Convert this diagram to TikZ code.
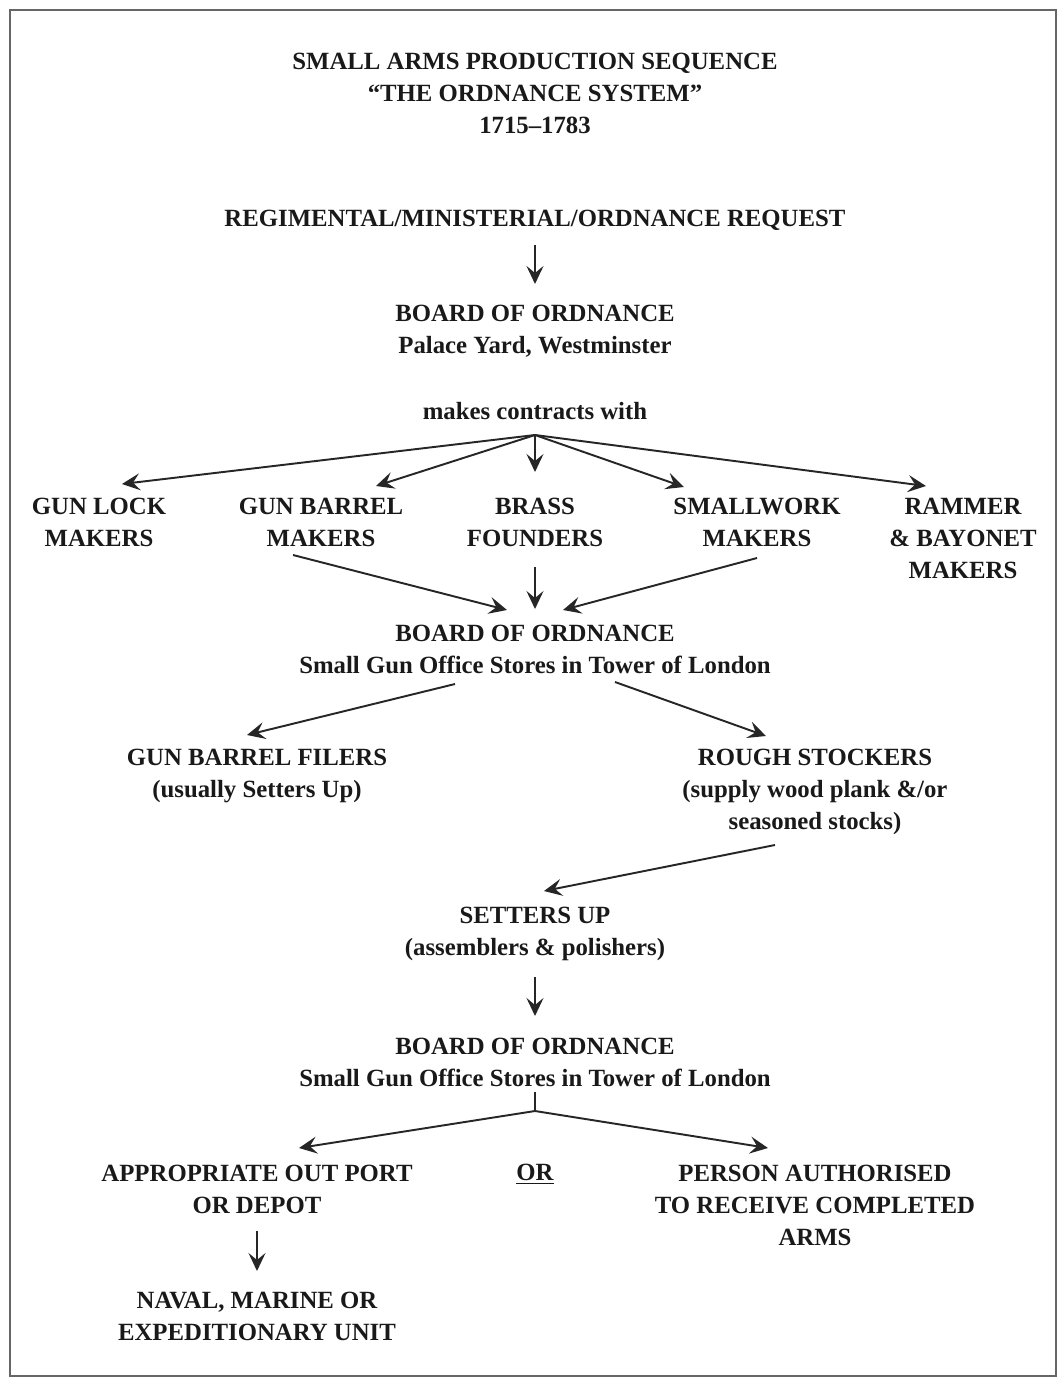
\documentclass[tikz,border=0pt]{standalone}
\usepackage{fontspec}
\setmainfont{Liberation Serif}
\usetikzlibrary{arrows.meta}

\begin{document}
\begin{tikzpicture}[x=0.02cm, y=-0.02cm,
  txt/.style={align=center, inner sep=0pt, text=black!90, font=\bfseries\fontsize{14.1}{18.2}\selectfont},
  arr/.style={-{Stealth[length=0.36cm, width=0.34cm, inset=0.14cm]}, line width=1.1pt, draw=black!85}]
% Page and frame (one unit is one pixel of the page)
\useasboundingbox (0,0) rectangle (1063,1380);
\draw[line width=1.2pt, black!60] (10,10) rectangle (1056,1376);

% Title
\node[txt] (title) at (535,93) {SMALL ARMS PRODUCTION SEQUENCE\\``THE ORDNANCE SYSTEM''\\1715--1783};

% Request and the Board
\node[txt] (request) at (535,220) {REGIMENTAL/MINISTERIAL/ORDNANCE REQUEST};
\node[txt] (board1) at (535,331) {BOARD OF ORDNANCE\\Palace Yard, Westminster};
\node[txt] (contracts) at (535,411) {makes contracts with};

% The five trades
\node[txt] (lock) at (99,522) {GUN LOCK\\MAKERS};
\node[txt] (barrel) at (321,522) {GUN BARREL\\MAKERS};
\node[txt] (brass) at (535,522) {BRASS\\FOUNDERS};
\node[txt] (small) at (757,522) {SMALLWORK\\MAKERS};
\node[txt] (rammer) at (963,538) {RAMMER\\\& BAYONET\\MAKERS};

% Stores in the Tower
\node[txt] (board2) at (535,649) {BOARD OF ORDNANCE\\Small Gun Office Stores in Tower of London};
\node[txt] (filers) at (257,776) {GUN BARREL FILERS\\(usually Setters Up)};
\node[txt] (rough) at (815,792) {ROUGH STOCKERS\\(supply wood plank \&/or\\seasoned stocks)};
\node[txt] (setters) at (535,934) {SETTERS UP\\(assemblers \& polishers)};
\node[txt] (board3) at (535,1062) {BOARD OF ORDNANCE\\Small Gun Office Stores in Tower of London};

% Where the arms go
\node[txt] (depot) at (257,1189) {APPROPRIATE OUT PORT\\OR DEPOT};
\node[txt] (or) at (535,1174) {\underline{OR}};
\node[txt] (person) at (815,1205) {PERSON AUTHORISED\\TO RECEIVE COMPLETED\\ARMS};
\node[txt] (naval) at (257,1316) {NAVAL, MARINE OR\\EXPEDITIONARY UNIT};

% Ends of the connectors
\coordinate (reqout) at (535,245);
\coordinate (board1in) at (535,284);
\coordinate (fan) at (535,435);
\coordinate (lockin) at (122,484);
\coordinate (barrelin) at (376,486);
\coordinate (brassin) at (535,472);
\coordinate (smallin) at (684,487);
\coordinate (rammerin) at (926,486);
\coordinate (barrelout) at (293,555);
\coordinate (brassout) at (535,567);
\coordinate (smallout) at (757,558);
\coordinate (board2inl) at (507,610);
\coordinate (board2inm) at (535,609);
\coordinate (board2inr) at (563,610);
\coordinate (board2outl) at (455,684);
\coordinate (board2outr) at (615,682);
\coordinate (filersin) at (247,735);
\coordinate (roughin) at (766,736);
\coordinate (roughout) at (775,845);
\coordinate (settersin) at (544,891);
\coordinate (settersout) at (535,977);
\coordinate (board3in) at (535,1016);
\coordinate (board3out) at (535,1092);
\coordinate (split) at (535,1111);
\coordinate (depotin) at (299,1148);
\coordinate (personin) at (768,1148);
\coordinate (depotout) at (257,1231);
\coordinate (navalin) at (257,1271);

% Connectors
\draw[arr] (reqout) -- (board1in);
\draw[arr] (fan) -- (lockin);
\draw[arr] (fan) -- (barrelin);
\draw[arr] (fan) -- (brassin);
\draw[arr] (fan) -- (smallin);
\draw[arr] (fan) -- (rammerin);
\draw[arr] (barrelout) -- (board2inl);
\draw[arr] (brassout) -- (board2inm);
\draw[arr] (smallout) -- (board2inr);
\draw[arr] (board2outl) -- (filersin);
\draw[arr] (board2outr) -- (roughin);
\draw[arr] (roughout) -- (settersin);
\draw[arr] (settersout) -- (board3in);
\draw[line width=1.1pt, black!85] (board3out) -- (split);
\draw[arr] (split) -- (depotin);
\draw[arr] (split) -- (personin);
\draw[arr] (depotout) -- (navalin);
\end{tikzpicture}
\end{document}
